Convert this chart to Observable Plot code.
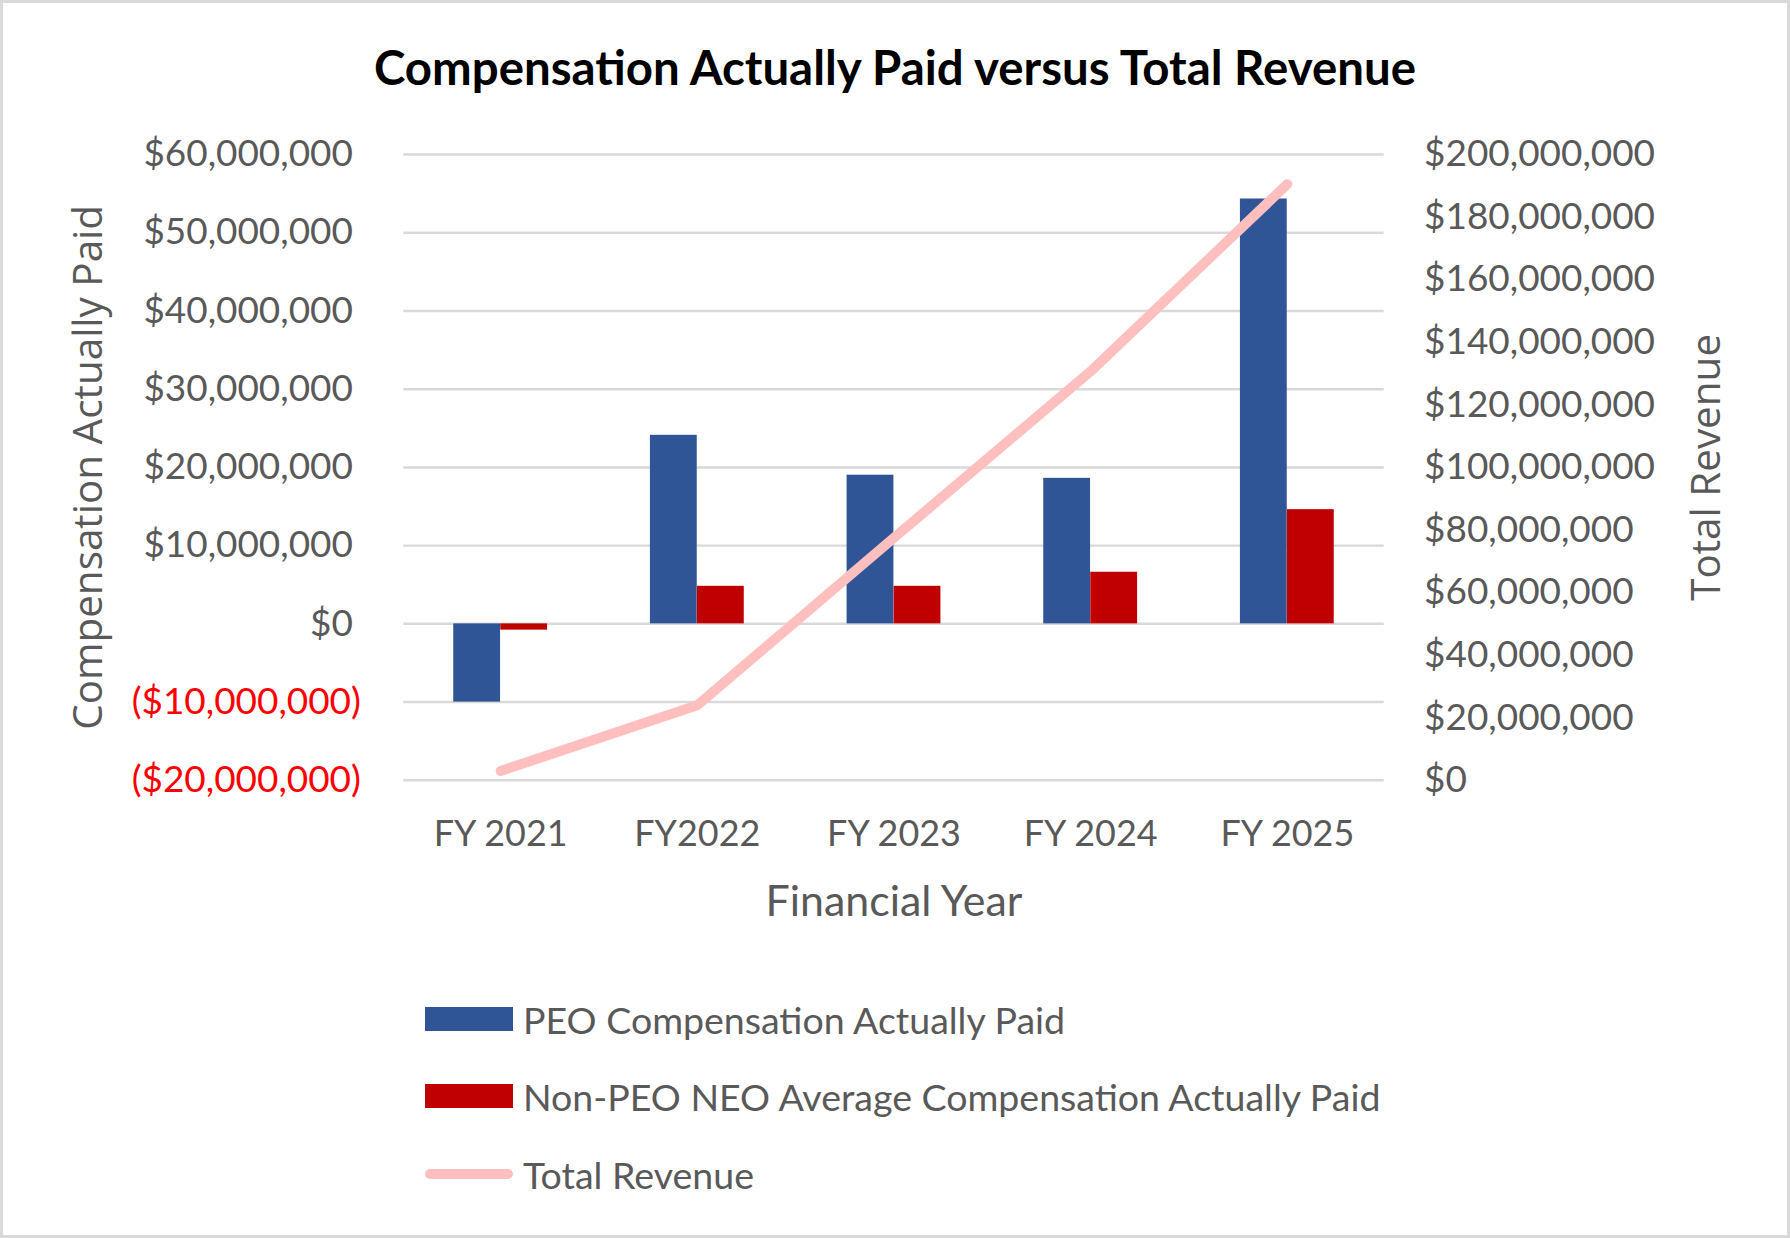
<!DOCTYPE html>
<html>
<head>
<meta charset="utf-8">
<script src="https://cdn.jsdelivr.net/npm/d3@7"></script>
<script src="https://cdn.jsdelivr.net/npm/@observablehq/plot@0.6"></script>
<style>
  html, body { margin: 0; padding: 0; background: #fff; }
  #page { position: relative; width: 1790px; height: 1238px; box-sizing: border-box; border: 3px solid #d9d9d9; background: #fff; overflow: hidden; }
  #title { position: absolute; left: 0; width: 1784px; top: 36px; text-align: center; font-family: Lato, "Noto Sans", sans-serif; font-weight: 700; font-size: 47.4px; color: #000; line-height: 56px; }
  #chart { position: absolute; left: -3px; top: 100px; }
  .leg { position: absolute; left: 422px; height: 44px; display: flex; align-items: center; font-family: Lato, sans-serif; font-size: 37.5px; color: #595959; }
  .sw { width: 88px; height: 24px; margin-right: 10px; }
  .ln { width: 88px; height: 10px; border-radius: 5px; background: #FFBFBF; margin-right: 10px; }
</style>
</head>
<body>
<div id="page">
  <div id="title">Compensation Actually Paid versus Total Revenue</div>
  <div id="chart"></div>
  <div class="leg" style="top:994px"><div class="sw" style="background:#2F5597"></div>PEO Compensation Actually Paid</div>
  <div class="leg" style="top:1071px"><div class="sw" style="background:#C00000"></div>Non-PEO NEO Average Compensation Actually Paid</div>
  <div class="leg" style="top:1149px"><div class="ln"></div>Total Revenue</div>
</div>
<script>
const years = ["FY 2021", "FY2022", "FY 2023", "FY 2024", "FY 2025"];
const peoCAP = [-10.0e6, 24.1e6, 19.0e6, 18.6e6, 54.3e6];
const nonPeoCAP = [-0.8e6, 4.8e6, 4.8e6, 6.6e6, 14.6e6];
const totalRevenue = [3.0e6, 24.0e6, 77.5e6, 130.7e6, 190.5e6];

const leftTicksPos = [0, 10e6, 20e6, 30e6, 40e6, 50e6, 60e6];
const leftTicksNeg = [-10e6, -20e6];
const rightTicks = [0, 20e6, 40e6, 60e6, 80e6, 100e6, 120e6, 140e6, 160e6, 180e6, 200e6];

// right axis [0, 200M] aligned with left axis [-20M, 60M]
const leftMin = -20e6, leftMax = 60e6, rightMin = 0, rightMax = 200e6;
const toLeft = r => leftMin + (r - rightMin) * (leftMax - leftMin) / (rightMax - rightMin);
const toRight = y => rightMin + (y - leftMin) * (rightMax - rightMin) / (leftMax - leftMin);

const peoData = years.map((y, i) => ({year: y, value: peoCAP[i]}));
const nonPeoData = years.map((y, i) => ({year: y, value: nonPeoCAP[i]}));
const revData = years.map((y, i) => ({year: y, value: totalRevenue[i]}));

const fmt = d3.format(",");
const money = v => {
  const r = Math.round(v);
  return r < 0 ? "($" + fmt(-r) + ")" : "$" + fmt(r);
};

const chart = Plot.plot({
  width: 1790,
  height: 833,
  marginTop: 51,
  marginBottom: 155,
  marginLeft: 404,
  marginRight: 404,
  style: {fontFamily: "Lato, sans-serif", fontSize: "37px", color: "#595959", background: "transparent"},
  x: {domain: years, paddingInner: 0.522, paddingOuter: 0.25, label: null},
  y: {domain: [leftMin, leftMax], label: null},
  marks: [
    Plot.gridY(leftTicksPos.concat(leftTicksNeg), {stroke: "#d9d9d9", strokeOpacity: 1, strokeWidth: 2.5}),
    Plot.barY(peoData, {x: "year", y: "value", fill: "#2F5597", insetRight: 47.1}),
    Plot.barY(nonPeoData, {x: "year", y: "value", fill: "#C00000", insetLeft: 47.1}),
    Plot.line(revData, {x: "year", y: d => toLeft(d.value), stroke: "#FFBFBF", strokeWidth: 10, strokeLinecap: "round", strokeLinejoin: "round"}),
    Plot.axisX({tickSize: 0, tickPadding: 40, fontSize: 36, fill: "#595959", label: null}),
    Plot.axisY({anchor: "left", ticks: leftTicksPos, tickSize: 0, tickPadding: 51, tickFormat: money, fontSize: 37, fill: "#595959", label: null}),
    Plot.axisY({anchor: "left", ticks: leftTicksNeg, tickSize: 0, tickPadding: 43, tickFormat: money, fontSize: 37, fill: "#FF0000", label: null}),
    Plot.axisY({anchor: "right", ticks: rightTicks.map(toLeft), tickSize: 0, tickPadding: 40, tickFormat: v => money(toRight(v)), fontSize: 37, fill: "#595959", label: null}),
    Plot.text(["Compensation Actually Paid"], {frameAnchor: "left", dx: -315, rotate: -90, textAnchor: "middle", lineAnchor: "middle", fontSize: 40.5, fontFamily: "Open Sans, sans-serif", fill: "#595959", text: d => d}),
    Plot.text(["Total Revenue"], {frameAnchor: "right", dx: 323, rotate: -90, textAnchor: "middle", lineAnchor: "middle", fontSize: 40.5, fontFamily: "Open Sans, sans-serif", fill: "#595959", text: d => d}),
    Plot.text(["Financial Year"], {frameAnchor: "bottom", dy: 122, textAnchor: "middle", lineAnchor: "middle", fontSize: 43, fill: "#595959", text: d => d})
  ]
});
document.getElementById("chart").appendChild(chart);
</script>
</body>
</html>
